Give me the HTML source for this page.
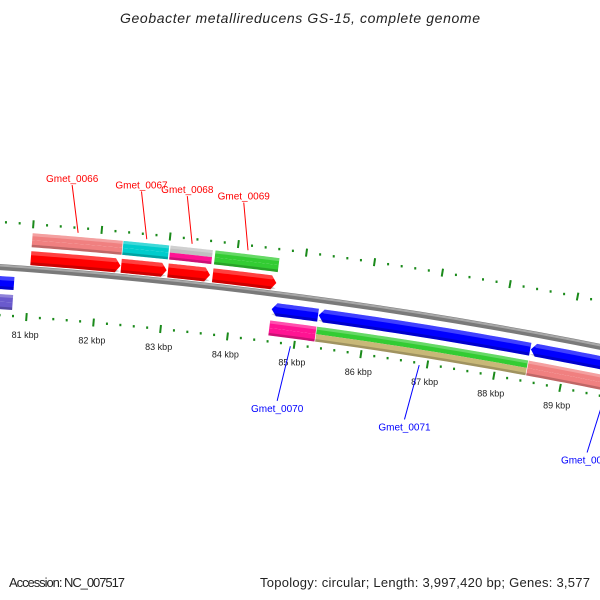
<!DOCTYPE html>
<html><head><meta charset="utf-8"><style>
html,body{margin:0;padding:0;background:#fff;}
svg{display:block;font-family:"Liberation Sans",sans-serif;}
</style></head><body>
<svg id="map" width="600" height="600" viewBox="0 0 600 600">
<text x="300" y="23" text-anchor="middle" font-size="14" font-style="italic" fill="#222" textLength="360">Geobacter metallireducens GS-15, complete genome</text>
<g id="track"></g>
<text x="9" y="587" font-size="13" fill="#222" textLength="116">Accession: NC_007517</text>
<text x="590" y="587" text-anchor="end" font-size="13" fill="#222" textLength="330">Topology: circular; Length: 3,997,420 bp; Genes: 3,577</text>
</svg>
<script>
const kbpTicks = [81,82,83,84,85,86,87,88,89];
const tickLabels = ["81 kbp","82 kbp","83 kbp","84 kbp","85 kbp","86 kbp","87 kbp","88 kbp","89 kbp"];
const geneNames = ["Gmet_0065","Gmet_0066","Gmet_0067","Gmet_0068","Gmet_0069","Gmet_0070","Gmet_0071","Gmet_0072"];
const geneStarts = [79500,81000,82330,83020,83680,84600,85300,88470];
const geneEnds = [80780,82320,83000,83640,84620,85290,88460,90800];
const geneStrands = [-1,1,1,1,1,-1,-1,-1];
const featColorA = ["#6a5acd","#f08080","#00cccc","#c0c0c0","#33cc33","#ff1493","#33cc33","#f08080"];
const featColorB = ["#6a5acd","#f08080","#00cccc","#ff1493","#33cc33","#ff1493","#c8b878","#f08080"];
const labeled = [false,true,true,true,true,true,true,true];

const NS="http://www.w3.org/2000/svg";
const g=document.getElementById('track');
const CX=-323, CY=4993, R0=4737, T0=0.07459, K=1.4359e-5;
function P(bp,d){const t=T0+(bp-81000)*K, R=R0+d;return [CX+R*Math.sin(t), CY-R*Math.cos(t)];}
function mk(tag,attrs){const e=document.createElementNS(NS,tag);for(const k in attrs)e.setAttribute(k,attrs[k]);g.appendChild(e);return e;}
function band(b1,b2,d1,d2){const n=24;let pts=[];for(let i=0;i<=n;i++)pts.push(P(b1+(b2-b1)*i/n,d2));for(let i=n;i>=0;i--)pts.push(P(b1+(b2-b1)*i/n,d1));return "M"+pts.map(p=>p[0].toFixed(2)+","+p[1].toFixed(2)).join("L")+"Z";}
function arrow(b1,b2,d1,d2,strand){const H=75,n=20,dm=(d1+d2)/2;let pts=[];
 if(strand>0){const e=b2-H;for(let i=0;i<=n;i++)pts.push(P(b1+(e-b1)*i/n,d2));pts.push(P(b2,dm));for(let i=n;i>=0;i--)pts.push(P(b1+(e-b1)*i/n,d1));}
 else{const s=b1+H;pts.push(P(b1,dm));for(let i=0;i<=n;i++)pts.push(P(s+(b2-s)*i/n,d2));for(let i=n;i>=0;i--)pts.push(P(s+(b2-s)*i/n,d1));}
 return "M"+pts.map(p=>p[0].toFixed(2)+","+p[1].toFixed(2)).join("L")+"Z";}

// backbone
let e;
e=mk('path',{d:band(78000,92000,-3,3),fill:'#7a7a7a'});


e=mk('path',{d:band(78000,92000,0.5,2.5),fill:'#a8a8a8'});



// ticks
for(let bp=79000;bp<=91000;bp+=200){
 const major=(bp%1000===0);
 [[45,41,49],[-48,-44,-52]].forEach(function(c){
  if(major){const a=P(bp,c[1]),b=P(bp,c[2]);
   e=mk('line',{x1:a[0],y1:a[1],x2:b[0],y2:b[1],stroke:'#1a8a1a','stroke-width':2});
   
   }
  else{const a=P(bp,c[0]);
   e=mk('rect',{x:a[0]-1,y:a[1]-1.2,width:2,height:2.4,fill:'#1a8a1a'});
   
   }
 });
}
kbpTicks.forEach(function(k,i){const p=P(k*1000,-66);
 e=mk('text',{x:p[0],y:p[1]+3,'text-anchor':'middle','font-size':9,fill:'#222'});
 e.textContent=tickLabels[i];
 
 
});

// genes
geneNames.forEach(function(nm,i){
 const s=geneStarts[i],en=geneEnds[i],st=geneStrands[i];
 const cds=st>0?[4,18]:[-22,-9];
 const ft=st>0?[22,36]:[-42,-27];
 const base=st>0?'#ff0000':'#0000ff';
 e=mk('path',{d:arrow(s,en,cds[0],cds[1],st),fill:base});
 
 
 e=mk('path',{d:arrow(s,en,cds[1]-4,cds[1],st),fill:'#fff','fill-opacity':0.25});
 
 
 e=mk('path',{d:arrow(s,en,cds[0],cds[0]+3,st),fill:'#000','fill-opacity':0.2});
 
 
 const mid=(ft[0]+ft[1])/2;
 e=mk('path',{d:band(s,en,mid,ft[1]),fill:featColorA[i]});
 
 
 e=mk('path',{d:band(s,en,ft[0],mid),fill:featColorB[i]});
 
 
 e=mk('path',{d:band(s,en,ft[1]-3,ft[1]),fill:'#fff','fill-opacity':0.25});
 
 
 e=mk('path',{d:band(s,en,ft[0],ft[0]+2.5),fill:'#000','fill-opacity':0.2});
 
 
});

// labels
geneNames.forEach(function(nm,i){
 if(!labeled[i])return;
 const st=geneStrands[i];
 const col=st>0?'#ff0000':'#0000ff';
 const m=(geneStarts[i]+geneEnds[i])/2;
 const mb=st>0?m:(i===7?geneStarts[i]+1200:m);
 const a=P(mb,st>0?40:-50);
 const b=P(mb-(st>0?0:-0),st>0?88:-105);
 const lx=b[0]+(st>0?-10:-6), ly=b[1];
 e=mk('line',{x1:a[0],y1:a[1],x2:lx,y2:ly,stroke:col,'stroke-width':1});
 
 
 e=mk('text',{x:lx,y:st>0?ly-3:ly+11,'text-anchor':'middle','font-size':10,fill:col});
 e.textContent=nm;
 
 
});
</script>
</body></html>
